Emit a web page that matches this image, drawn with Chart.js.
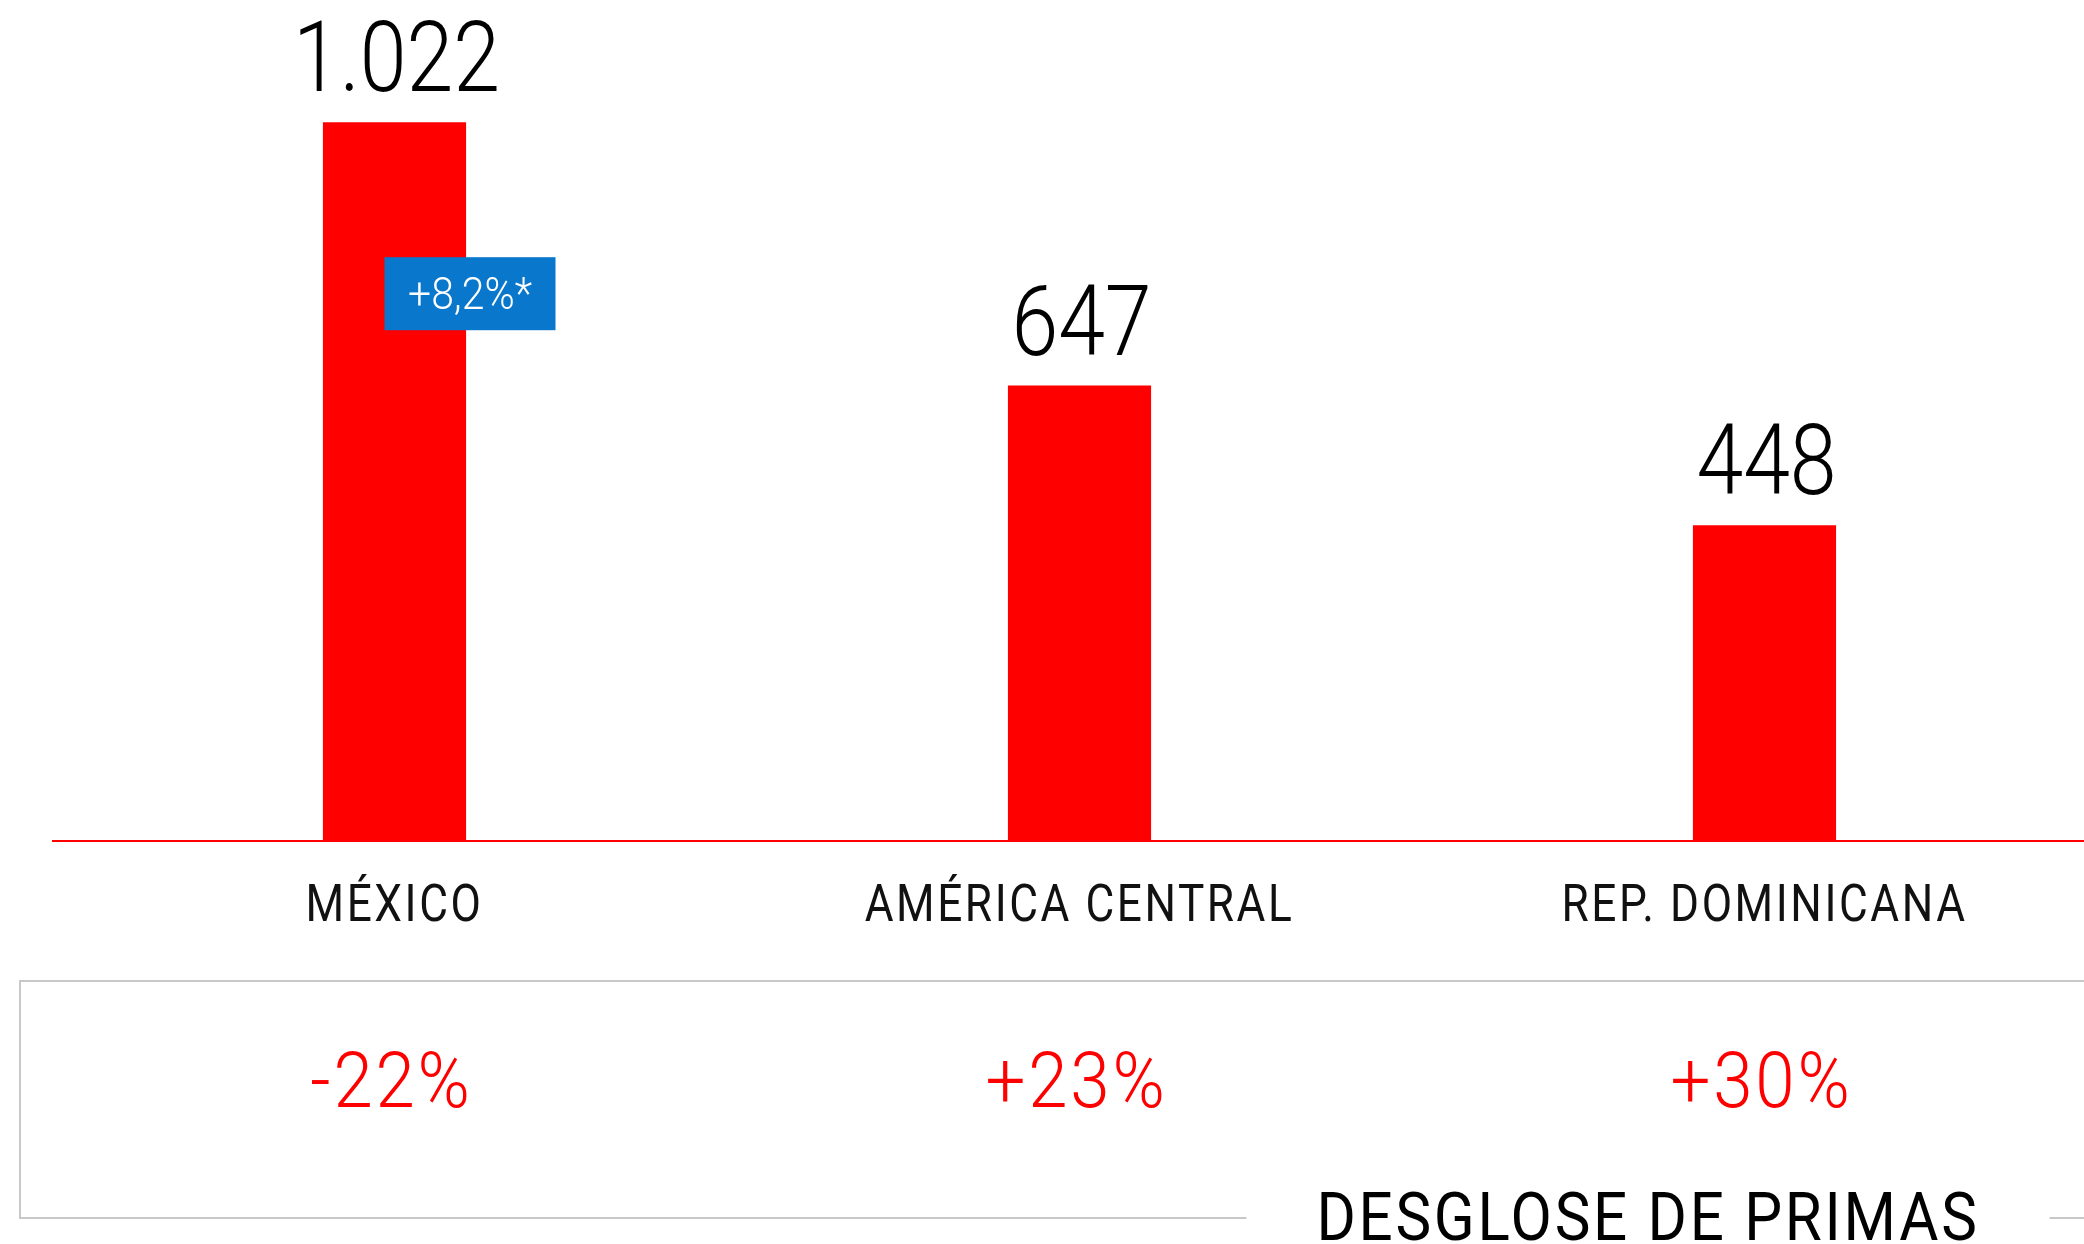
<!DOCTYPE html>
<html lang="es">
<head>
    <meta charset="UTF-8">
    <title>Desglose de primas</title>
    <script src="https://cdn.jsdelivr.net/npm/chart.js"></script>
    <style>
        html, body { margin: 0; padding: 0; background: #fff; overflow: hidden; }
    </style>
</head>
<body>
    <canvas id="grafico" width="2107" height="1244"></canvas>

    <script>
        // Datos del gráfico
        var categorias = ['MÉXICO', 'AMÉRICA CENTRAL', 'REP. DOMINICANA'];
        var primas = [1022, 647, 448];
        var etiquetasPrimas = ['1.022', '647', '448'];
        var variaciones = ['-22%', '+23%', '+30%'];
        var notaMexico = '+8,2%*';
        var titulo = 'DESGLOSE DE PRIMAS';

        var rojo = '#ff0000';
        var azul = '#0877cc';
        var gris = '#c8c8c8';
        var fuente = 'Roboto, "Noto Sans", sans-serif';

        // texto estrechado horizontalmente para parecerse a DIN
        function texto(ctx, t, x, y, size, color, sx, espacio, peso) {
            ctx.save();
            ctx.font = (peso || 400) + ' ' + size + 'px ' + fuente;
            ctx.fillStyle = color;
            ctx.textAlign = 'center';
            ctx.textBaseline = 'alphabetic';
            ctx.letterSpacing = (espacio || 0) + 'px';
            ctx.translate(x, y);
            ctx.scale(sx, 1);
            ctx.fillText(t, 0, 0);
            var w = ctx.measureText(t).width * sx;
            ctx.restore();
            return w;
        }

        var extras = {
            id: 'extras',
            afterDraw: function (chart) {
                var ctx = chart.ctx;
                var area = chart.chartArea;
                var y0 = chart.scales.y.getPixelForValue(0);
                var barras = chart.getDatasetMeta(0).data;

                // línea base
                ctx.save();
                ctx.strokeStyle = rojo;
                ctx.lineWidth = 2;
                ctx.beginPath();
                ctx.moveTo(area.left, y0 + 1);
                ctx.lineTo(chart.width, y0 + 1);
                ctx.stroke();
                ctx.restore();

                barras.forEach(function (b, i) {
                    // valor encima de la barra
                    texto(ctx, etiquetasPrimas[i], b.x + 2, b.y - 31, 98, '#000', 0.86, 0, 300);
                    // categoría
                    texto(ctx, categorias[i], b.x, y0 + 81, 52, '#111', 0.85, 3);
                    // variación
                    texto(ctx, variaciones[i], b.x - 3, 1107, 77, rojo, 0.92, 3, 300);
                });

                // nota azul sobre México
                var m = barras[0];
                var bx = m.x - 10, by = m.y + 135, bw = 171, bh = 73;
                ctx.save();
                ctx.fillStyle = azul;
                ctx.fillRect(bx, by, bw, bh);
                ctx.restore();
                texto(ctx, notaMexico, bx + bw / 2, by + bh / 2 + 15, 44, '#fff', 0.93, 0, 300);

                // recuadro inferior con título
                var cx = 1648;
                var wt = texto(ctx, titulo, cx, 1240, 66, '#000', 0.91, 3);
                var gap = wt / 2 + 70;
                ctx.save();
                ctx.strokeStyle = gris;
                ctx.lineWidth = 2;
                ctx.beginPath();
                ctx.moveTo(chart.width, 981);
                ctx.lineTo(20, 981);
                ctx.lineTo(20, 1218);
                ctx.lineTo(cx - gap, 1218);
                ctx.moveTo(cx + gap, 1218);
                ctx.lineTo(chart.width, 1218);
                ctx.stroke();
                ctx.restore();
            }
        };

        var ctx = document.getElementById('grafico').getContext('2d');
        var grafico = new Chart(ctx, {
            type: 'bar',
            data: {
                labels: categorias,
                datasets: [{
                    label: 'Primas',
                    data: primas,
                    backgroundColor: rojo,
                    borderWidth: 0,
                    categoryPercentage: 1,
                    barPercentage: 0.209
                }]
            },
            options: {
                responsive: false,
                devicePixelRatio: 1,
                animation: false,
                layout: {
                    padding: { left: 52, right: 0, top: 0, bottom: 404 }
                },
                plugins: {
                    legend: { display: false },
                    tooltip: { enabled: false }
                },
                scales: {
                    x: { display: false },
                    y: { display: false, min: 0, max: 1196 }
                }
            },
            plugins: [extras]
        });
    </script>
</body>
</html>
